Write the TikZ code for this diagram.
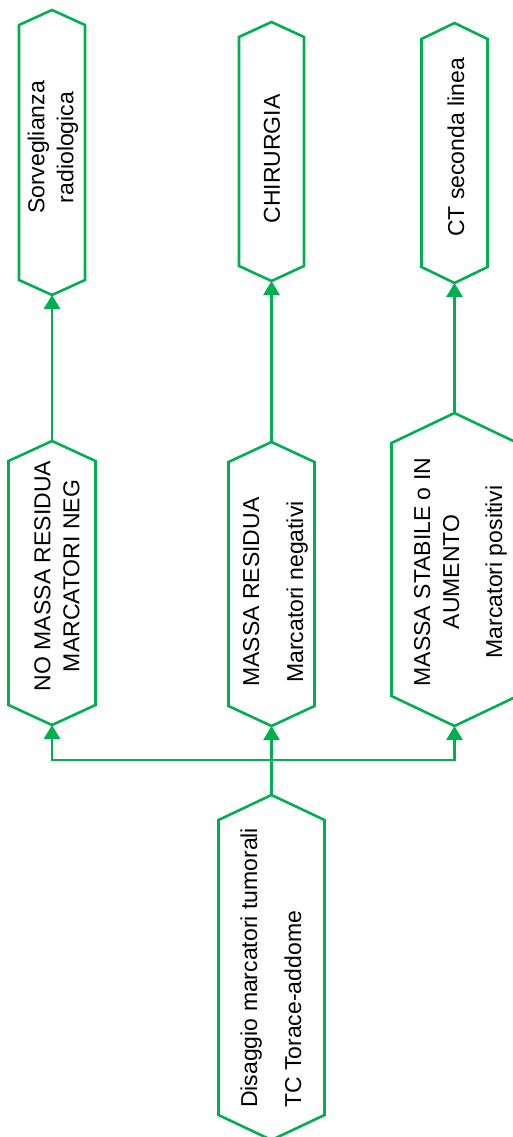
\documentclass[tikz,border=0pt]{standalone}
\usepackage{fontspec}
\newfontfamily\arialf{Liberation Sans}
\usetikzlibrary{arrows.meta,calc}
\definecolor{lgreen}{RGB}{0,176,80}
\tikzset{
  hexframe/.style={rectangle, draw=none, inner sep=0pt, outer sep=0pt},
  hexline/.style={draw=lgreen, line width=2.6pt, line join=miter},
  lbl/.style={rotate=90, font=\arialf\fontsize{23}{29}\selectfont, inner sep=0pt, align=center, text=black},
  conn/.style={draw=lgreen, line width=2.6pt},
  arr/.style={conn, -{Triangle[width=16pt,length=14pt]}},
}
\newcommand{\hexshape}[2]{%
  \draw[hexline] (#1.north) -- ($(#1.north east)+(0,#2)$) -- ($(#1.south east)+(0,-#2)$) -- (#1.south) -- ($(#1.south west)+(0,-#2)$) -- ($(#1.north west)+(0,#2)$) -- cycle;
}
\begin{document}
\begin{tikzpicture}[x=1pt,y=-1pt]
\useasboundingbox (0,0) rectangle (512,1137);
% frames
\node[hexframe, minimum width=66pt, minimum height=285pt] (B1) at (52,152.5) {};
\node[hexframe, minimum width=65pt, minimum height=259pt] (B2) at (271.5,151.5) {};
\node[hexframe, minimum width=66pt, minimum height=260pt] (B3) at (454.5,153) {};
\node[hexframe, minimum width=87pt, minimum height=284pt] (M1) at (52,583) {};
\node[hexframe, minimum width=86pt, minimum height=284pt] (M2) at (271.5,584) {};
\node[hexframe, minimum width=126pt, minimum height=313pt] (M3) at (454.5,569.5) {};
\node[hexframe, minimum width=106pt, minimum height=345pt] (D) at (271.5,967.5) {};
\hexshape{B1}{15}
\hexshape{B2}{15}
\hexshape{B3}{16}
\hexshape{M1}{20}
\hexshape{M2}{20}
\hexshape{M3}{30}
\hexshape{D}{25}
% labels
\node[lbl] (tB1) at (53,147.5) {Sorveglianza\\radiologica};
\node[lbl] (tB2) at (272,159) {CHIRURGIA};
\node[lbl] (tB3) at (456,147.5) {CT seconda linea};
\node[lbl] (tM1) at (57,576) {NO MASSA RESIDUA\\MARCATORI NEG};
\node[lbl] (tM2) at (275.5,592) {MASSA RESIDUA\\[15pt]Marcatori negativi};
\node[lbl] (tM3) at (460.5,572) {MASSA STABILE o IN\\AUMENTO\\[14pt]Marcatori positivi};
\node[lbl, align=left, anchor=west] (tD) at (271,1108) {Disaggio marcatori tumorali\\[15pt]TC Torace-addome};
% connectors
\coordinate (H) at (0,760);
\coordinate (J) at (D.north |- H);
\draw[conn] (D.north) -- (J);
\draw[arr] (J) -| (M1.south);
\draw[arr] (J) -| (M3.south);
\draw[arr] (J) -- (M2.south);
\draw[arr] (M1.north) -- (B1.south);
\draw[arr] (M2.north) -- (B2.south);
\draw[arr] (M3.north) -- (B3.south);
\end{tikzpicture}
\end{document}
